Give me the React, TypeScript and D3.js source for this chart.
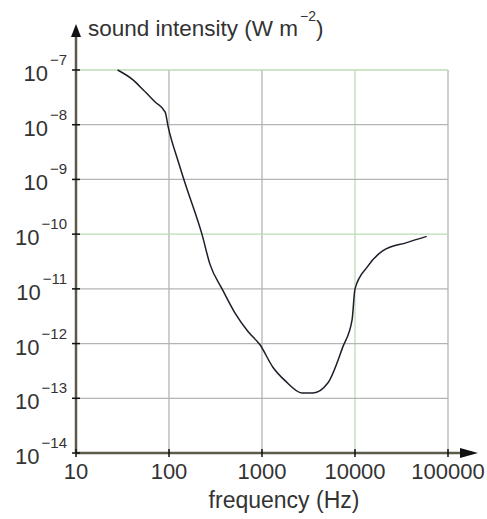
import * as d3 from 'd3'
import { useRef, useEffect } from 'react'

// frequency (Hz) and sound intensity (W m^-2)
const frequency = [28, 41, 53, 71, 91, 98, 125, 149, 226, 276, 372, 513, 707, 951, 1310, 1770, 2690, 3530, 5100, 7400, 9300, 10000, 13500, 20000, 36000, 59000]
const intensity = [1e-7, 6.6e-8, 4.3e-8, 2.6e-8, 1.7e-8, 9.1e-9, 2.2e-9, 8.5e-10, 1e-10, 2.8e-11, 1e-11, 3.6e-12, 1.66e-12, 9.5e-13, 3.7e-13, 2.1e-13, 1.25e-13, 1.25e-13, 1.9e-13, 8.7e-13, 2.7e-12, 1e-11, 2.5e-11, 5e-11, 7e-11, 9.1e-11]

const xTicks = [10, 100, 1000, 10000, 100000]
const xTickLabels = ['10', '100', '1000', '10000', '100000']
const yExponents = [-7, -8, -9, -10, -11, -12, -13, -14]
const greenX = [10000]
const greenY = [-7, -10]

const FONT = '"Liberation Sans", Arial, sans-serif'
const GRAY = '#b4b4b4'
const GREEN = '#bcdcb4'
const AXIS = '#5c5a48'

export default function App() {
    const svgRef = useRef<SVGSVGElement>(null)

    useEffect(() => {
        const svg = d3.select(svgRef.current)
        svg.selectAll('*').remove()

        const x = d3.scaleLog().domain([10, 100000]).range([76, 448])
        const y = d3.scaleLog().domain([1e-14, 1e-7]).range([453, 70])

        const grid = svg.append('g')
        // vertical grid
        grid.selectAll('.vg')
            .data(xTicks.slice(1))
            .join('line')
            .attr('x1', d => x(d)).attr('x2', d => x(d))
            .attr('y1', y(1e-7)).attr('y2', y(1e-14))
            .attr('stroke', d => greenX.includes(d) ? GREEN : GRAY)
            .attr('stroke-width', 1.3)
        // horizontal grid
        grid.selectAll('.hg')
            .data(yExponents.slice(0, -1))
            .join('line')
            .attr('x1', x(10)).attr('x2', x(100000))
            .attr('y1', d => y(Math.pow(10, d))).attr('y2', d => y(Math.pow(10, d)))
            .attr('stroke', d => greenY.includes(d) ? GREEN : GRAY)
            .attr('stroke-width', 1.3)

        // curve
        const pts = frequency.map((f, i) => [f, intensity[i]] as [number, number])
        const line = d3.line<[number, number]>()
            .x(d => x(d[0]))
            .y(d => y(d[1]))
            .curve(d3.curveMonotoneX)
        svg.append('path')
            .datum(pts)
            .attr('d', line)
            .attr('fill', 'none')
            .attr('stroke', '#1e1e2a')
            .attr('stroke-width', 1.5)

        // axes
        const axes = svg.append('g')
        axes.append('line')
            .attr('x1', x(10)).attr('x2', x(10))
            .attr('y1', y(1e-14)).attr('y2', 32)
            .attr('stroke', AXIS).attr('stroke-width', 2.5)
        axes.append('line')
            .attr('x1', x(10)).attr('x2', 466)
            .attr('y1', y(1e-14)).attr('y2', y(1e-14))
            .attr('stroke', AXIS).attr('stroke-width', 2.5)
        axes.append('path')
            .attr('d', `M${x(10)},24 L${x(10) - 5},37 L${x(10) + 5},37 Z`)
            .attr('fill', '#111')
        axes.append('path')
            .attr('d', `M478,${y(1e-14)} L460,${y(1e-14) - 5} L460,${y(1e-14) + 5} Z`)
            .attr('fill', '#111')

        // ticks
        axes.selectAll('.xt')
            .data(xTicks)
            .join('line')
            .attr('x1', d => x(d)).attr('x2', d => x(d))
            .attr('y1', y(1e-14) - 4).attr('y2', y(1e-14) + 4)
            .attr('stroke', '#111').attr('stroke-width', 1.5)
        axes.selectAll('.yt')
            .data(yExponents)
            .join('line')
            .attr('x1', x(10) - 4).attr('x2', x(10) + 4)
            .attr('y1', d => y(Math.pow(10, d))).attr('y2', d => y(Math.pow(10, d)))
            .attr('stroke', '#111').attr('stroke-width', 1.5)

        // x tick labels
        svg.selectAll('.xl')
            .data(xTicks)
            .join('text')
            .attr('x', d => x(d))
            .attr('y', 479)
            .attr('text-anchor', 'middle')
            .attr('font-family', FONT)
            .attr('font-size', 22)
            .attr('fill', '#333')
            .text((_, i) => xTickLabels[i])

        // y tick labels: 10 with superscript exponent
        const yl = svg.selectAll('.yl')
            .data(yExponents)
            .join('text')
            .attr('x', 67)
            .attr('y', d => y(Math.pow(10, d)) + 11)
            .attr('text-anchor', 'end')
            .attr('font-family', FONT)
            .attr('fill', '#333')
        yl.append('tspan').attr('font-size', 22).text('10')
        yl.append('tspan').attr('font-size', 15).attr('dy', -16).attr('dx', 2)
            .text(d => '\u2212' + Math.abs(d))

        // axis titles
        const title = svg.append('text')
            .attr('x', 88).attr('y', 36)
            .attr('font-family', FONT)
            .attr('font-size', 22.5)
            .attr('fill', '#333')
        title.append('tspan').text('sound intensity (W m')
        title.append('tspan').attr('font-size', 14).attr('dy', -15).attr('dx', 2).text('\u22122')
        title.append('tspan').attr('dy', 15).text(')')

        svg.append('text')
            .attr('x', 284).attr('y', 508)
            .attr('text-anchor', 'middle')
            .attr('font-family', FONT)
            .attr('font-size', 23)
            .attr('fill', '#333')
            .text('frequency (Hz)')
    }, [])

    return (
        <svg ref={svgRef} width={487} height={519}
            style={{ display: 'block', position: 'absolute', left: 0, top: 0, background: '#fff' }} />
    )
}
